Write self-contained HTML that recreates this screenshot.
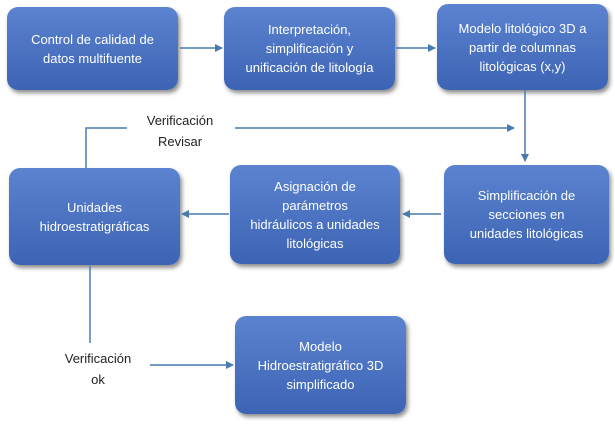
<!DOCTYPE html>
<html><head><style>
body{margin:0;width:615px;height:426px;background:#fff;position:relative;overflow:hidden;font-family:"Liberation Sans",sans-serif}
.b{position:absolute;border-radius:11px;background:linear-gradient(#5b83d0,#3d64b4);color:#fff;font-size:13px;line-height:19px;display:flex;align-items:center;justify-content:center;text-align:center;box-shadow:2px 3px 4px rgba(0,0,0,.45)}
.t{position:absolute;font-size:13px;color:#222;text-align:center;line-height:21px}
</style></head><body>
<div class="b" style="left:7px;top:7px;width:171px;height:83px">Control de calidad de<br>datos multifuente</div>
<div class="b" style="left:224px;top:7px;width:171px;height:83px">Interpretación,<br>simplificación y<br>unificación de litología</div>
<div class="b" style="left:437px;top:4px;width:171px;height:86px">Modelo litológico 3D a<br>partir de columnas<br>litológicas (x,y)</div>
<div class="b" style="left:444px;top:165px;width:165px;height:99px">Simplificación de<br>secciones en<br>unidades litológicas</div>
<div class="b" style="left:230px;top:165px;width:170px;height:99px">Asignación de<br>parámetros<br>hidráulicos a unidades<br>litológicas</div>
<div class="b" style="left:9px;top:168px;width:171px;height:97px">Unidades<br>hidroestratigráficas</div>
<div class="b" style="left:235px;top:316px;width:171px;height:98px">Modelo<br>Hidroestratigráfico 3D<br>simplificado</div>
<div class="t" style="left:130px;top:110px;width:100px">Verificación<br>Revisar</div>
<div class="t" style="left:48px;top:348px;width:100px">Verificación<br>ok</div>
<svg width="615" height="426" style="position:absolute;left:0;top:0">
<defs><marker id="a" markerWidth="8" markerHeight="8" refX="7" refY="4" orient="auto" markerUnits="userSpaceOnUse"><path d="M0,0L8,4L0,8z" fill="#4a7bae"/></marker></defs>
<g stroke="#4a7bae" stroke-width="1.5" fill="none">
<line x1="180" y1="48" x2="222" y2="48" marker-end="url(#a)"/>
<line x1="396" y1="48" x2="435" y2="48" marker-end="url(#a)"/>
<line x1="525" y1="90" x2="525" y2="161" marker-end="url(#a)"/>
<polyline points="86,168 86,128 127,128"/>
<line x1="235" y1="128" x2="514" y2="128" marker-end="url(#a)"/>
<line x1="441" y1="214" x2="403" y2="214" marker-end="url(#a)"/>
<line x1="229" y1="214" x2="182" y2="214" marker-end="url(#a)"/>
<line x1="90" y1="266" x2="90" y2="343"/>
<line x1="150" y1="365" x2="233" y2="365" marker-end="url(#a)"/>
</g></svg>
</body></html>
